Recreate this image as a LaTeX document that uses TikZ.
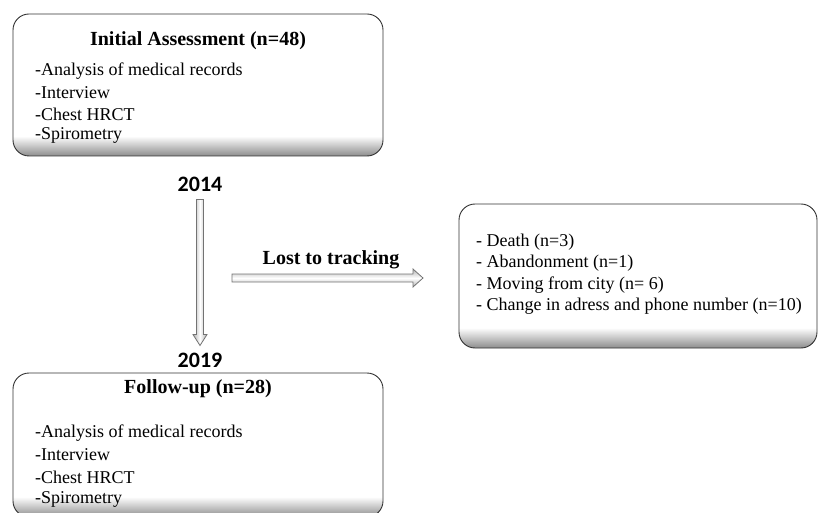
\documentclass[tikz,border=0pt]{standalone}
\usepackage{fontspec}
\setmainfont{Liberation Serif}
\newfontfamily\yearfont{Carlito}
\usetikzlibrary{calc}
\pgfdeclareverticalshading{boxsh}{100bp}{color(0bp)=(black!55); color(25bp)=(black!45); color(32bp)=(white); color(100bp)=(white)}
\begin{document}
\begin{tikzpicture}[x=1pt,y=-1pt,
  box/.style={draw=black!80, line width=0.9pt, rounded corners=16pt, shading=boxsh},
  title/.style={font=\bfseries\fontsize{20}{22}\selectfont, inner sep=0pt},
  item/.style={font=\fontsize{18}{20}\selectfont, anchor=west, inner sep=0pt},
  year/.style={font=\yearfont\bfseries\fontsize{22}{24}\selectfont, inner sep=0pt},
  varrow/.style={draw=black!55, line width=0.8pt, left color=black!30, right color=black!30, middle color=white},
  harrow/.style={draw=black!55, line width=0.8pt, top color=black!30, bottom color=black!30, middle color=white}]
\useasboundingbox (0,0) rectangle (819,513);
\clip (0,0) rectangle (819,513);
% boxes
\shade[box] (13,14) rectangle (383,156);
\shade[box] (459,204) rectangle (817,348);
\shade[box] (13,373) rectangle (383,517);
% top box text
\node[title] (t1) at (198,41) {Initial Assessment (n=48)};
\node[item] (a1) at (35,71) {-Analysis of medical records};
\node[item] (a2) at (35,92.5) {-Interview};
\node[item] (a3) at (35,114) {-Chest HRCT};
\node[item] (a4) at (35,135.5) {-Spirometry};
% right box text
\node[item] (r1) at (476,242) {- Death (n=3)};
\node[item] (r2) at (476,263.5) {- Abandonment (n=1)};
\node[item] (r3) at (476,285) {- Moving from city (n= 6)};
\node[item] (r4) at (476,306.5) {- Change in adress and phone number (n=10)};
% bottom box text
\node[title] (t2) at (198,389) {Follow-up (n=28)};
\node[item] (b1) at (35,433) {-Analysis of medical records};
\node[item] (b2) at (35,455) {-Interview};
\node[item] (b3) at (35,477) {-Chest HRCT};
\node[item] (b4) at (35,499) {-Spirometry};
% years and label
\node[year] (y1) at (200,184) {2014};
\node[year] (y2) at (200,360) {2019};
\node[title] (lost) at (331,260) {Lost to tracking};
% vertical arrow
\coordinate (v1) at ($(y1.south)+(0,8)$);
\coordinate (v2) at ($(y2.north)+(0,-7)$);
\shade[varrow] ($(v1)+(-3.5,0)$) -- ($(v2)+(-3.5,-11)$) -- ($(v2)+(-7,-11)$) -- (v2)
  -- ($(v2)+(7,-11)$) -- ($(v2)+(3.5,-11)$) -- ($(v1)+(3.5,0)$) -- cycle;
% horizontal arrow
\coordinate (h1) at (232,278);
\coordinate (h2) at (423,278);
\shade[harrow] ($(h1)+(0,-4)$) -- ($(h2)+(-10,-4)$) -- ($(h2)+(-10,-9)$) -- (h2)
  -- ($(h2)+(-10,9)$) -- ($(h2)+(-10,4)$) -- ($(h1)+(0,4)$) -- cycle;
\end{tikzpicture}
\end{document}
